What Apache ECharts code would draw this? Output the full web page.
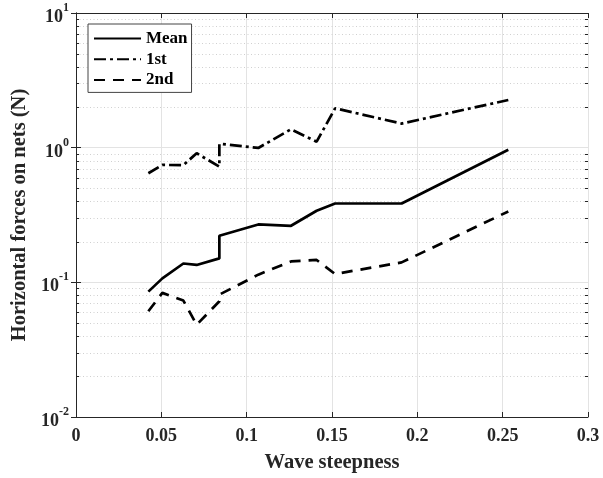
<!DOCTYPE html>
<html>
<head>
<meta charset="utf-8">
<script src="https://cdn.jsdelivr.net/npm/echarts@6/dist/echarts.min.js"></script>
<style>
html,body{margin:0;padding:0;background:#fff;}
#chart{width:603px;height:478px;}
</style>
</head>
<body>
<div id="chart"></div>
<script>
// Wave steepness (x) for each measured case
var steepness = [0.0424, 0.0506, 0.0629, 0.0707, 0.0840, 0.0840, 0.1068, 0.1260, 0.1410, 0.1518, 0.1908, 0.2533];
// Horizontal forces on nets (N)
var meanForce = [0.0853, 0.107, 0.138, 0.1346, 0.1506, 0.222, 0.269, 0.263, 0.340, 0.385, 0.385, 0.966];
var firstForce = [0.646, 0.745, 0.741, 0.909, 0.723, 1.07, 0.995, 1.37, 1.107, 1.96, 1.51, 2.26];
var secondForce = [0.061, 0.0835, 0.0732, 0.0484, 0.0723, 0.081, 0.114, 0.143, 0.1466, 0.1154, 0.1406, 0.336];
var seriesNames = ['Mean', '1st', '2nd'];
// minor log-grid values
var minorValues = [0.02,0.03,0.04,0.05,0.06,0.07,0.08,0.09,0.2,0.3,0.4,0.5,0.6,0.7,0.8,0.9,2,3,4,5,6,7,8,9];
var xTicks = {min: 0, max: 0.3, interval: 0.05};
var yRange = {min: 0.01, max: 10};

function pairs(xs, ys){ return xs.map(function(x,i){ return [x, ys[i]]; }); }

var FONT = 'Liberation Serif';
var TXT = '#262626';
var chart = echarts.init(document.getElementById('chart'), null, {renderer:'canvas'});

var option = {
  animation: false,
  backgroundColor: '#fff',
  grid: {left: 76, right: 15, top: 13, bottom: 60, containLabel: false},
  legend: {
    data: seriesNames,
    orient: 'vertical',
    left: 88, top: 24,
    itemWidth: 47, itemHeight: 14, itemGap: 3.7,
    padding: [6, 4, 4, 5],
    itemStyle: {opacity: 0},
    borderColor: '#444', borderWidth: 1, backgroundColor: '#fff',
    textStyle: {fontFamily: FONT, fontWeight: 'bold', fontSize: 17, color: '#000'}
  },
  xAxis: [{
    type: 'value', min: xTicks.min, max: xTicks.max, interval: xTicks.interval,
    name: 'Wave steepness', nameLocation: 'middle', nameGap: 35,
    nameTextStyle: {fontFamily: FONT, fontWeight: 'bold', fontSize: 20.5, color: TXT},
    axisLine: {show: true, onZero: false, lineStyle: {color: TXT, width: 1}},
    axisTick: {show: true, inside: true, length: 5, lineStyle: {color: TXT}},
    axisLabel: {fontFamily: FONT, fontWeight: 'bold', fontSize: 18, color: TXT, margin: 10,
      formatter: function(v){ return String(+v.toFixed(2)); }},
    splitLine: {show: true, lineStyle: {color: '#e3e3e3', width: 1}}
  },{
    type: 'value', position: 'top', min: xTicks.min, max: xTicks.max, interval: xTicks.interval,
    axisLine: {show: true, lineStyle: {color: TXT, width: 1}},
    axisTick: {show: true, inside: true, length: 5, lineStyle: {color: TXT}},
    axisLabel: {show: false}, splitLine: {show: false}
  }],
  yAxis: [{
    type: 'log', logBase: 10, min: yRange.min, max: yRange.max, splitNumber: 3,
    name: 'Horizontal forces on nets (N)', nameLocation: 'middle', nameGap: 45,
    nameTextStyle: {fontFamily: FONT, fontWeight: 'bold', fontSize: 20.5, color: TXT},
    axisLine: {show: true, onZero: false, lineStyle: {color: TXT, width: 1}},
    axisTick: {show: true, inside: true, length: 5, lineStyle: {color: TXT}},
    axisLabel: {
      margin: 7,
      formatter: function(v){ var e = Math.round(Math.log10(v)); return '{b|10}{s|' + e + '}'; },
      rich: {
        b: {fontFamily: FONT, fontWeight: 'bold', fontSize: 18, color: TXT, padding: [9,0,0,0]},
        s: {fontFamily: FONT, fontWeight: 'bold', fontSize: 12, color: TXT, padding: [0,0,10,0]}
      }
    },
    splitLine: {show: true, lineStyle: {color: '#e3e3e3', width: 1}}
  },{
    type: 'log', logBase: 10, position: 'right', min: yRange.min, max: yRange.max, splitNumber: 3,
    axisLine: {show: true, lineStyle: {color: TXT, width: 1}},
    axisTick: {show: true, inside: true, length: 5, lineStyle: {color: TXT}},
    axisLabel: {show: false}, splitLine: {show: false}
  }],
  series: [
    {
      type: 'custom', silent: true, z: 1,
      xAxisIndex: 0, yAxisIndex: 0,
      data: minorValues.map(function(v){ return [xTicks.min, v]; }),
      renderItem: function(params, api){
        var v = api.value(1);
        var a = api.coord([xTicks.min, v]);
        var b = api.coord([xTicks.max, v]);
        var y = Math.round(a[1]) + 0.5;
        return {type: 'group', children: [
          {type: 'line', shape: {x1: a[0], y1: y, x2: b[0], y2: y},
           style: {stroke: '#d0d0d0', lineWidth: 1, lineDash: [1, 2.5]}},
          {type: 'line', shape: {x1: a[0], y1: y, x2: a[0] + 3, y2: y},
           style: {stroke: TXT, lineWidth: 1}},
          {type: 'line', shape: {x1: b[0], y1: y, x2: b[0] - 3, y2: y},
           style: {stroke: TXT, lineWidth: 1}}
        ]};
      }
    },
    {
      name: 'Mean', type: 'line', data: pairs(steepness, meanForce), symbol: 'none', z: 5,
      lineStyle: {color: '#000', width: 2.7, type: 'solid'}, itemStyle: {color: '#000'}
    },
    {
      name: '1st', type: 'line', data: pairs(steepness, firstForce), symbol: 'none', z: 5,
      lineStyle: {color: '#000', width: 2.7, type: [12, 4, 3, 4]}, itemStyle: {color: '#000'}
    },
    {
      name: '2nd', type: 'line', data: pairs(steepness, secondForce), symbol: 'none', z: 5,
      lineStyle: {color: '#000', width: 2.7, type: [11, 8]}, itemStyle: {color: '#000'}
    }
  ]
};
chart.setOption(option);
</script>
</body>
</html>
